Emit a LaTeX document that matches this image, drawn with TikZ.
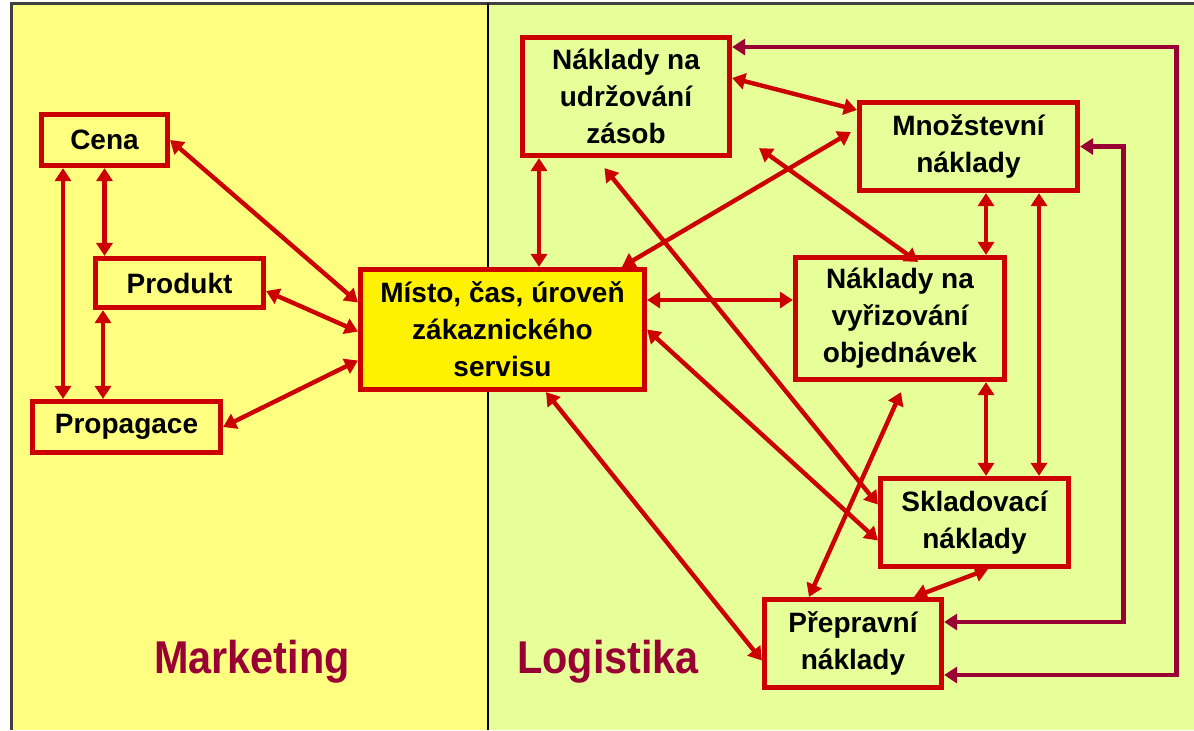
\documentclass[tikz,border=0pt]{standalone}
\usepackage{fontspec}
\setmainfont{Liberation Sans}
\newfontfamily\areafont[FakeStretch=0.9]{Liberation Sans}
\usetikzlibrary{arrows.meta,calc}

\definecolor{boxred}{HTML}{CC0000}
\definecolor{wine}{HTML}{990033}
\definecolor{mkyellow}{HTML}{FFFF80}
\definecolor{lggreen}{HTML}{E6FF99}
\definecolor{framegray}{HTML}{404040}

\tikzset{
  box/.style={draw=boxred, line width=2.6pt, align=center, inner sep=0pt,
    font=\fontsize{14}{18.5}\selectfont\bfseries},
  area/.style={text=wine, anchor=base, font=\areafont\fontsize{23}{28}\selectfont\bfseries},
  link/.style={boxred, line width=2.2pt,
    {Triangle[length=6.5pt,width=8pt]}-{Triangle[length=6.5pt,width=8pt]}},
  backlink/.style={wine, line width=2.4pt, miter limit=10,
    {Triangle[length=6.5pt,width=8pt]}-{Triangle[length=6.5pt,width=8pt]}}
}

\begin{document}
\begin{tikzpicture}[x=0.5pt,y=-0.5pt]

    % Page and the two areas
    \useasboundingbox (0,0) rectangle (1194,730);
    \fill[mkyellow] (11,3) rectangle (488,730);
    \fill[lggreen] (488,3) rectangle (1194,730);
    \draw[framegray, line width=1.5pt] (11,730) -- (11,3) -- (1194,3);
    \draw[black, line width=0.8pt] (488,3) -- (488,730);

    % Marketing boxes
    \node[box, minimum width=63pt, minimum height=25.5pt] (cena) at (104.5,140) {Cena};
    \node[box, minimum width=84pt, minimum height=24.5pt] (produkt) at (179.5,283) {Produkt};
    \node[box, minimum width=94pt, minimum height=25.5pt] (propagace) at (126.5,427) {Propagace};

    % Service box in the middle
    \node[box, fill=yellow, minimum width=142pt, minimum height=60pt] (misto) at (502.5,329.5)
        {Místo, čas, úroveň\\zákaznického\\servisu};

    % Logistics boxes
    \node[box, minimum width=103.5pt, minimum height=59pt] (udrzovani) at (626,96.5)
        {Náklady na\\udržování\\zásob};
    \node[box, minimum width=109pt, minimum height=44pt] (mnozstevni) at (968.5,146.5)
        {Množstevní\\náklady};
    \node[box, minimum width=104.5pt, minimum height=61pt] (vyrizovani) at (900,318.5)
        {Náklady na\\vyřizování\\objednávek};
    \node[box, minimum width=94pt, minimum height=44pt] (skladovaci) at (974.5,522.5)
        {Skladovací\\náklady};
    \node[box, minimum width=88.5pt, minimum height=44pt] (prepravni) at (853,643.5)
        {Přepravní\\náklady};

    % Area names
    \node[area] (marketing) at (252,673) {Marketing};
    \node[area] (logistika) at (608,673) {Logistika};

    % Marketing links
    \draw[link] (cena.east) -- ($(misto.west)+(0,-27)$);
    \draw[link] ($(produkt.east)+(0,8)$) -- ($(misto.west)+(0,2)$);
    \draw[link] (propagace.east) -- ($(misto.west)+(0,31)$);
    \draw[link] ($(cena.south)+(-41.5,0)$) coordinate (c1) -- (c1 |- propagace.north);
    \draw[link] (cena.south) -- (cena.south |- produkt.north);
    \draw[link] ($(produkt.south)+(-76.5,0)$) coordinate (c2) -- (c2 |- propagace.north);

    % Logistics links
    \draw[link] ($(udrzovani.south)+(-87,0)$) coordinate (c3) -- (c3 |- misto.north);
    \draw[link] ($(udrzovani.east)+(0,-18.5)$) -- ($(mnozstevni.west)+(0,-36.5)$);
    \draw[link] ($(mnozstevni.west)+(-6,-14.5)$) -- ($(misto.north)+(119.5,0)$);
    \draw[link] ($(udrzovani.south east)+(27,-10)$) -- ($(vyrizovani.north)+(18,7)$);
    \draw[link] ($(udrzovani.south)+(-21.5,10)$) -- ($(skladovaci.west)+(0,-18)$);
    \draw[link] (misto.east) -- ($(skladovaci.west)+(0,18)$);
    \draw[link] ($(misto.east)+(0,-29.5)$) coordinate (c4) -- (c4 -| vyrizovani.west);
    \draw[link] ($(misto.south)+(43.5,0)$) -- ($(prepravni.west)+(0,17)$);
    \draw[link] ($(vyrizovani.south)+(1,10)$) -- ($(prepravni.north)+(-44,0)$);
    \draw[link] ($(mnozstevni.south)+(17.5,0)$) coordinate (c5) -- (c5 |- vyrizovani.north);
    \draw[link] ($(mnozstevni.south)+(70.5,0)$) coordinate (c6) -- (c6 |- skladovaci.north);
    \draw[link] (c5 |- vyrizovani.south) -- (c5 |- skladovaci.north);
    \draw[link] ($(skladovaci.south)+(13.5,0)$) -- ($(prepravni.north)+(61,0)$);

    % Links back from transport
    \draw[backlink] ($(prepravni.east)+(0,-21.5)$) -| ($(mnozstevni.east)+(43,0)$) -- (mnozstevni.east);
    \draw[backlink] ($(prepravni.east)+(0,31.5)$) -| ($(udrzovani.east)+(444,-49.5)$)
        -- ($(udrzovani.east)+(0,-49.5)$);

\end{tikzpicture}
\end{document}
